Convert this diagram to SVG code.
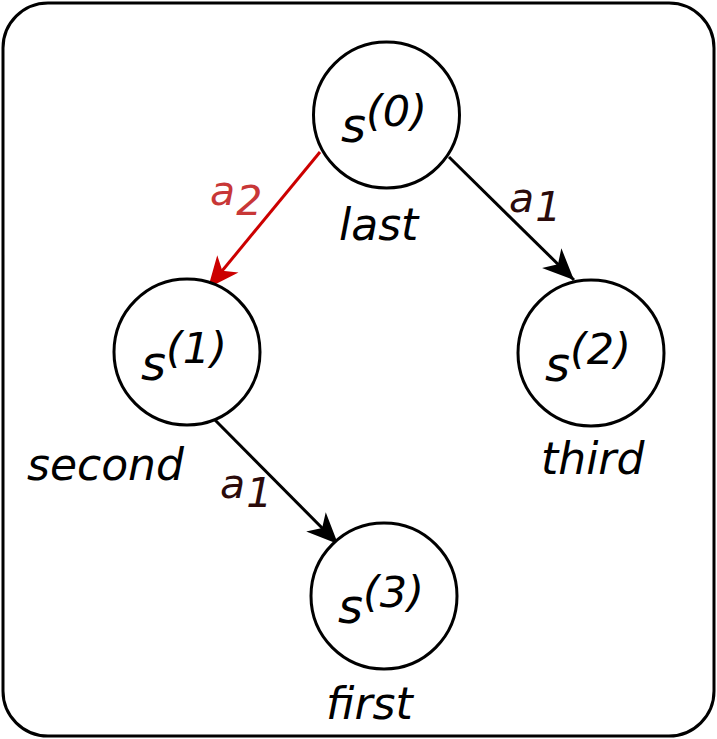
<svg xmlns="http://www.w3.org/2000/svg" width="717" height="739" viewBox="0 0 717 739">
<style>
.node{fill:#fff;stroke:#000;stroke-width:3}
.t{font-family:"DejaVu Sans",sans-serif;font-style:italic;fill:#000}
.s{font-size:48px}
.sup{font-size:43px}
.lbl{font-size:44px}
.edge{fill:none;stroke-width:3}
.ea{font-family:"DejaVu Sans",sans-serif;font-style:italic;font-size:41px}
</style>
<defs>
<marker id="ak" markerUnits="userSpaceOnUse" orient="auto" markerWidth="40" markerHeight="40" refX="0" refY="0" viewBox="-30 -15 32 30" overflow="visible">
<path d="M0,0 L-25,-11 L-18,0 L-25,11 Z" fill="#000"/>
</marker>
<marker id="ar" markerUnits="userSpaceOnUse" orient="auto" markerWidth="40" markerHeight="40" refX="0" refY="0" viewBox="-30 -15 32 30" overflow="visible">
<path d="M0,0 L-25,-11 L-18,0 L-25,11 Z" fill="#cc0000"/>
</marker>
</defs>
<rect x="3" y="3" width="711" height="733" rx="45" ry="45" fill="#fff" stroke="#000" stroke-width="3"/>
<g id="edges">
<line class="edge" x1="320" y1="152" x2="208" y2="288" stroke="#cc0000" marker-end="url(#ar)"/>
<line class="edge" x1="449" y1="157" x2="574" y2="280" stroke="#000" marker-end="url(#ak)"/>
<line class="edge" x1="214" y1="419" x2="338" y2="544" stroke="#000" marker-end="url(#ak)"/>
<text class="ea" fill="#c83737" x="210" y="205">a<tspan dx="1" dy="10">2</tspan></text>
<text class="ea" fill="#2b0b0b" x="509" y="212">a<tspan dx="1" dy="9">1</tspan></text>
<text class="ea" fill="#2b0b0b" x="220" y="498">a<tspan dx="1" dy="9">1</tspan></text>
</g>
<g id="s0">
<circle class="node" cx="386.5" cy="115" r="73"/>
<text class="t s" x="341" y="142">s</text>
<text class="t sup" x="366" y="126">(0)</text>
<text class="t lbl" x="339" y="240">last</text>
</g>
<g id="s1">
<circle class="node" cx="187" cy="352" r="73"/>
<text class="t s" x="141" y="380">s</text>
<text class="t sup" x="166" y="363">(1)</text>
<text class="t lbl" x="27" y="480">second</text>
</g>
<g id="s2">
<circle class="node" cx="591" cy="353" r="73"/>
<text class="t s" x="545" y="381">s</text>
<text class="t sup" x="570" y="364">(2)</text>
<text class="t lbl" x="541" y="474">third</text>
</g>
<g id="s3">
<circle class="node" cx="384" cy="596" r="73"/>
<text class="t s" x="338" y="623">s</text>
<text class="t sup" x="363" y="607">(3)</text>
<text class="t lbl" x="326" y="719">first</text>
</g>
</svg>
